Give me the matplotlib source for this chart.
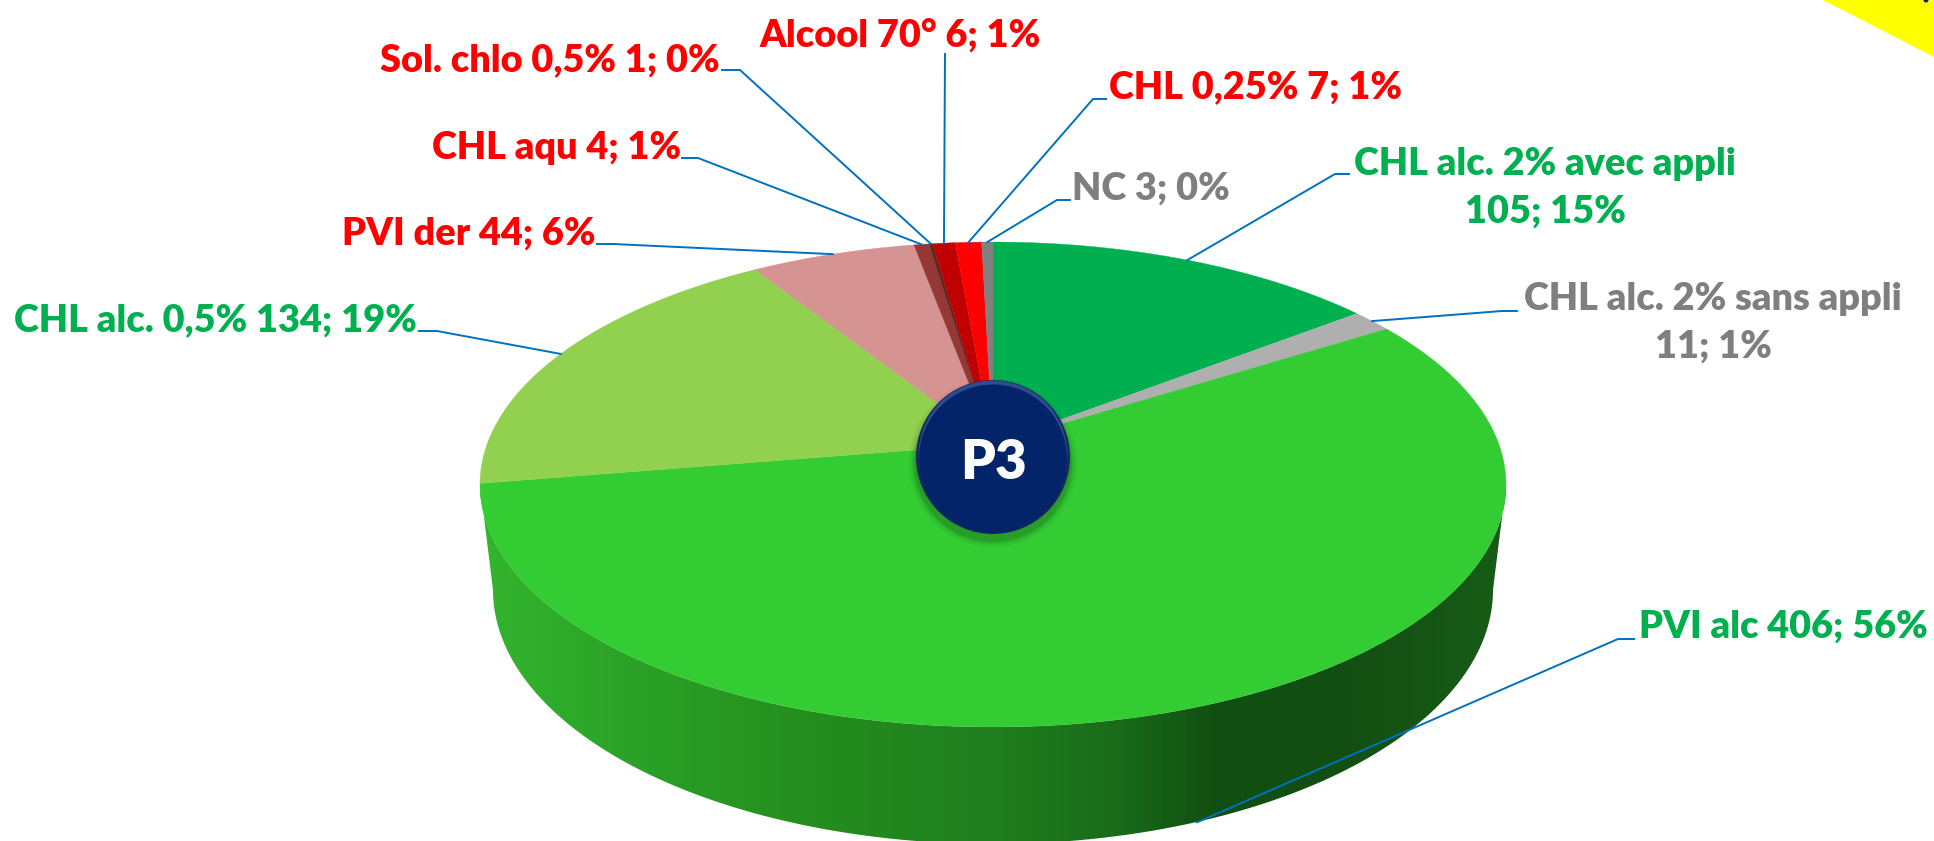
import numpy as np
import matplotlib
matplotlib.use("Agg")
import matplotlib.pyplot as plt
from matplotlib.colors import LinearSegmentedColormap
from matplotlib.patches import Circle, Ellipse, Polygon

plt.rcParams['font.family'] = ['Lato', 'DejaVu Sans']

# ---- data (clockwise from 12 o'clock) ----
names = ["CHL alc. 2% avec appli", "CHL alc. 2% sans appli", "PVI alc", "CHL alc. 0,5%", "PVI der",
         "CHL aqu", "Sol. chlo 0,5%", "Alcool 70°", "CHL 0,25%", "NC"]
values = [105, 11, 406, 134, 44, 4, 1, 6, 7, 3]
percents = ["15%", "1%", "56%", "19%", "6%", "1%", "0%", "1%", "1%", "0%"]
colors = ["#00B050", "#AFAFAF", "#33CC33", "#92D050", "#D59391",
          "#953735", "#632523", "#C00000", "#FF0000", "#808080"]
text_colors = ["#00B050", "#7F7F7F", "#00B050", "#00B050", "#FF0000",
               "#FF0000", "#FF0000", "#FF0000", "#FF0000", "#7F7F7F"]

# label: anchor (x, y), ha, two-line flag
label_pos = [(1545, 188, "center", True), (1713, 323, "center", True), (1639, 627, "left", False),
             (417, 320, "right", False), (595, 234, "right", False), (681, 148, "right", False),
             (720, 60, "right", False), (900, 35, "center", False), (1109, 87, "left", False),
             (1072, 189, "left", False)]
# leader polyline: from the text end to the elbow
elbows = [[(1349, 174), (1335, 174)], [(1517, 311), (1502, 311)], [(1634, 639), (1618, 639)],
          [(419, 331), (437, 331)], [(597, 244), (613, 244)], [(682, 158), (698, 158)],
          [(722, 70), (740, 70)], [(945, 54)], [(1106, 99), (1093, 99)], [(1070, 200), (1057, 200)]]

W, H = 1934, 841
CX, CY, R, S, K = 993, 444, 505.8, 235.7, 0.167
BOTTOM_RIM = (993, 590, 500, 254)


def project(theta):
    u, v = np.sin(theta), np.cos(theta)
    w = 1 + K * v
    return CX + R * u / w, CY - S * v / w


fig = plt.figure(figsize=(W / 100, H / 100), dpi=100, facecolor="white")
ax = fig.add_axes([0, 0, 1, 1])
ax.set_xlim(0, W)
ax.set_ylim(H, 0)
ax.axis("off")

# yellow corner
ax.add_patch(Polygon([(1823, 0), (1934, 0), (1934, 57)], closed=True, fc="#FFFF00", ec="none", zorder=1))
ax.add_patch(Circle((1926, 0), 2.5, fc="#10206A", ec="none", zorder=1.1))

# side wall: top rim lower half + bottom rim lower half
t = np.linspace(-np.pi / 2, np.pi / 2, 300)
ecx, ecy, erx, ery = 993, 484.5, 513, 242.5
top_x, top_y = ecx - erx * np.sin(t), ecy + ery * np.cos(t)
bcx, bcy, brx, bry = BOTTOM_RIM
bot_x, bot_y = bcx + brx * np.sin(t), bcy + bry * np.cos(t)
poly = Polygon(np.r_[np.c_[top_x, top_y], np.c_[bot_x, bot_y]], closed=True, fc="none", ec="none")
ax.add_patch(poly)
cmap = LinearSegmentedColormap.from_list("side", [(0, "#33B52F"), (0.12, "#2CA528"), (0.3, "#25901F"),
                                                  (0.5, "#1F7E1E"), (0.62, "#1A6C1A"), (0.72, "#114E11"),
                                                  (0.85, "#134F12"), (1, "#185C17")])
im = ax.imshow(np.linspace(0, 1, 512)[None, :], cmap=cmap, extent=(480, 1506, 850, 480), aspect="auto", zorder=2)
im.set_clip_path(poly)
ax.set_xlim(0, W)
ax.set_ylim(H, 0)

# pie top surface
fractions = np.array(values, dtype=float) / sum(values)
edges = np.r_[0, np.cumsum(fractions)] * 2 * np.pi
for a, b, c in zip(edges[:-1], edges[1:], colors):
    th = np.linspace(a, b, max(int((b - a) * 120), 6))
    xs, ys = project(th)
    ax.add_patch(Polygon(np.r_[[(CX, CY)], np.c_[xs, ys]], closed=True, fc=c, ec=c, lw=0.25, zorder=3))

# leader lines and labels
for i, (nm, val, pct, tc) in enumerate(zip(names, values, percents, text_colors)):
    mid = (edges[i] + edges[i + 1]) / 2
    x, y = project(mid)
    if nm == "PVI alc":
        x, y = x - 8, y + 117
    pts = elbows[i] + [(x, y)]
    ax.plot(*zip(*pts), color="#0070C0", lw=1.4, solid_joinstyle="miter", zorder=5)
    lx, ly, ha, two = label_pos[i]
    s = f"{nm}\n{val}; {pct}" if two else f"{nm} {val}; {pct}"
    ax.text(lx, ly, s, color=tc, fontsize=27.3, fontweight="heavy", ha=ha, va="center",
            multialignment="center", linespacing=1.5, zorder=6)

# P3 badge
BX, BY, BR = 993, 457, 77
for r, al in zip([84, 81, 79], [0.06, 0.10, 0.14]):
    ax.add_patch(Ellipse((BX, BY + 6), 2 * r, 2 * r, fc="#0A2A10", ec="none", alpha=al, zorder=7))
ax.add_patch(Circle((BX, BY), BR, fc="#14275E", ec="none", zorder=8))
ax.add_patch(Circle((BX, BY - 2), BR - 2.5, fc="#2F4C8C", ec="none", zorder=8.1))
ax.add_patch(Circle((BX, BY + 1.5), BR - 3, fc="#032468", ec="none", zorder=8.2))
ax.text(BX, BY + 6, "P3", color="white", fontsize=39.5, fontweight="heavy", ha="center", va="center", zorder=9)

fig.savefig("out.png", dpi=100, facecolor="white")
